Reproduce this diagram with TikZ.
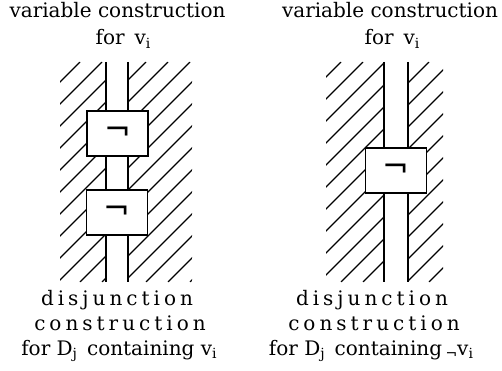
\documentclass[tikz,border=0pt]{standalone}
\usepackage{fontspec}
\setmainfont{DejaVu Serif}
\newfontfamily\symfont{DejaVu Sans}
\newcommand{\sbi}[1]{\raisebox{-0.35ex}{\fontsize{14}{14}\selectfont #1}}
\begin{document}
\begin{tikzpicture}[x=1pt,y=-1pt,
  lab/.style={anchor=base,inner sep=0pt,font=\fontsize{20}{24}\selectfont},
  spaced/.style={lab,font=\fontsize{20}{24}\selectfont\addfontfeatures{LetterSpace=20}},
  trunk/.style={line width=1.8pt},
  hatch/.style={line width=1.1pt},
  gate/.style={draw,line width=1.8pt,fill=white,minimum width=61pt,minimum height=45pt,inner sep=0pt,font=\symfont\fontsize{32}{32}\selectfont}]
\useasboundingbox (0,0) rectangle (502,371);
% ---- left panel hatching
\begin{scope}
  \clip (60,62) rectangle (106,282) (128,62) rectangle (192,282);
  \foreach \c in {120,142,...,500} {
    \draw[hatch] (\c-282,282) -- (\c-62,62);
  }
\end{scope}
\coordinate (lt1) at (106,62); \coordinate (lt2) at (128,62);
\coordinate (lb1) at (106,282); \coordinate (lb2) at (128,282);
\draw[trunk] (lt1) -- (lb1);
\draw[trunk] (lt2) -- (lb2);
\node[gate] (g1) at (117.5,133.5) {¬};
\node[gate] (g2) at (117,212.5) {¬};
% ---- right panel hatching
\begin{scope}
  \clip (326,62) rectangle (384,282) (408,62) rectangle (443,282);
  \foreach \c in {381,403,...,800} {
    \draw[hatch] (\c-282,282) -- (\c-62,62);
  }
\end{scope}
\coordinate (rt1) at (384,62); \coordinate (rt2) at (408,62);
\coordinate (rb1) at (384,282); \coordinate (rb2) at (408,282);
\draw[trunk] (rt1) -- (rb1);
\draw[trunk] (rt2) -- (rb2);
\node[gate] (g3) at (396,170.5) {¬};
% ---- labels
\node[lab] (t1) at (117.5,18) {variable construction};
\node[lab] (t2) at (123,45) {for\enspace v\sbi{i}};
\node[lab] (t3) at (390,18) {variable construction};
\node[lab] (t4) at (392,45) {for\enspace v\sbi{i}};
\node[spaced] (b1) at (117,305) {disjunction};
\node[spaced] (b2) at (120,330) {construction};
\node[lab] (b3) at (119,355) {for D\sbi{j}\enspace containing v\sbi{i}};
\node[spaced] (b4) at (372,305) {disjunction};
\node[spaced] (b5) at (374,330) {construction};
\node[lab] (b6) at (371,355) {for D\sbi{j}\enspace containing\,\raisebox{-0.3ex}{\symfont\fontsize{14}{14}\selectfont ¬}v\sbi{i}};
\end{tikzpicture}
\end{document}
